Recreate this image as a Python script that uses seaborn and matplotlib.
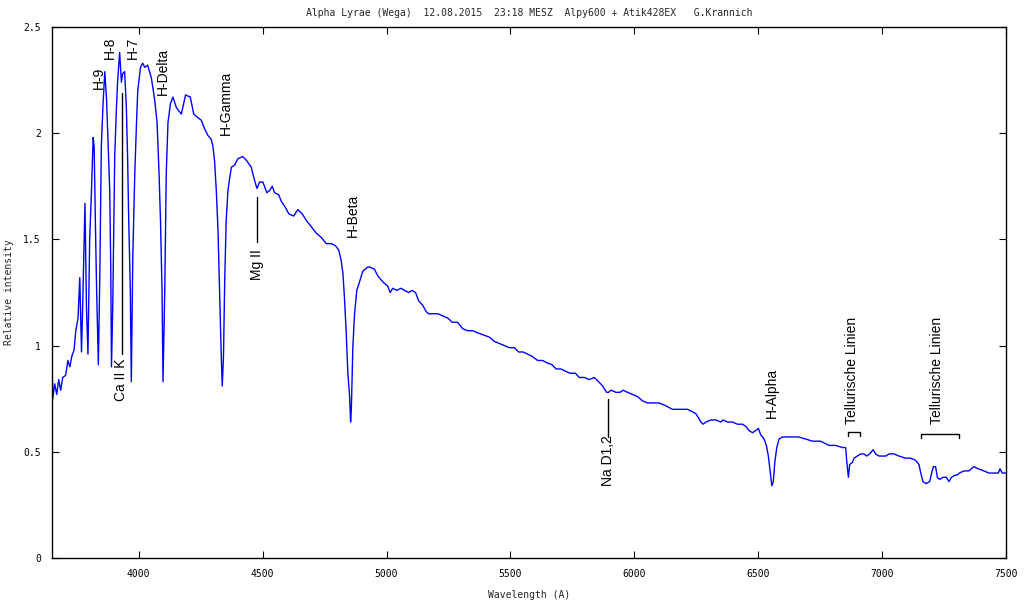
import numpy as np
import pandas as pd
import seaborn as sns
import matplotlib
matplotlib.use("Agg")
import matplotlib.pyplot as plt

# Wellenlaenge (A) und relative Intensitaet
wavelength = [
    3650, 3653, 3661, 3669, 3677, 3685, 3693, 3705, 3714, 3722, 3730, 3739, 3746, 3755, 3762,
    3769, 3774, 3783, 3789, 3795, 3802, 3809, 3816, 3820, 3825, 3830, 3837, 3843, 3849, 3856,
    3863, 3870, 3875, 3883, 3887, 3890, 3895, 3903, 3910, 3915, 3923, 3930, 3935, 3943, 3950,
    3955, 3959, 3966, 3970, 3976, 3984, 3991, 3996, 4007, 4016, 4024, 4036, 4051, 4064, 4074,
    4082, 4088, 4094, 4098, 4105, 4111, 4118, 4128, 4138, 4152, 4172, 4189, 4208, 4222, 4232,
    4253, 4266, 4279, 4293, 4299, 4306, 4313, 4320, 4326, 4333, 4337, 4342, 4347, 4353, 4360,
    4367, 4374, 4387, 4400, 4420, 4436, 4454, 4467, 4477, 4488, 4501, 4517, 4528, 4539, 4548,
    4565, 4575, 4592, 4606, 4625, 4642, 4660, 4676, 4696, 4716, 4736, 4757, 4777, 4794, 4807,
    4817, 4824, 4830, 4837, 4844, 4851, 4855, 4858, 4864, 4871, 4880, 4891, 4904, 4924, 4931,
    4951, 4964, 4985, 5005, 5015, 5025, 5041, 5059, 5072, 5090, 5103, 5117, 5130, 5146, 5160,
    5170, 5186, 5207, 5227, 5247, 5265, 5287, 5307, 5327, 5348, 5368, 5391, 5415, 5435, 5455,
    5476, 5496, 5516, 5533, 5552, 5569, 5587, 5610, 5630, 5646, 5668, 5684, 5704, 5721, 5740,
    5762, 5778, 5798, 5818, 5838, 5856, 5872, 5888, 5896, 5906, 5926, 5942, 5955, 5973, 5993,
    6013, 6033, 6053, 6073, 6100, 6121, 6138, 6154, 6174, 6194, 6215, 6232, 6248, 6259, 6269,
    6278, 6289, 6309, 6329, 6349, 6358, 6376, 6396, 6416, 6436, 6450, 6463, 6477, 6490, 6501,
    6510, 6524, 6533, 6541, 6549, 6555, 6561, 6567, 6575, 6584, 6598, 6618, 6638, 6662, 6692,
    6719, 6752, 6786, 6813, 6840, 6853, 6857, 6864, 6869, 6880, 6887, 6900, 6914, 6927, 6938,
    6950, 6964, 6974, 6988, 7015, 7028, 7048, 7068, 7095, 7115, 7135, 7149, 7156, 7165, 7178,
    7192, 7200, 7207, 7216, 7223, 7232, 7246, 7259, 7270, 7280, 7294, 7302, 7312, 7330, 7350,
    7370, 7388, 7411, 7431, 7447, 7469, 7476, 7485, 7492, 7500,
]
intensity = [
    0.93, 0.75, 0.82, 0.77, 0.84, 0.79, 0.85, 0.86, 0.93, 0.90, 0.95, 0.98, 1.07, 1.13, 1.32,
    0.97, 1.20, 1.67, 1.18, 0.96, 1.50, 1.72, 1.98, 1.94, 1.58, 1.26, 0.91, 1.34, 1.94, 2.14,
    2.29, 2.16, 2.00, 1.73, 1.37, 0.90, 1.18, 1.89, 2.12, 2.25, 2.38, 2.24, 2.28, 2.29, 2.12,
    1.89, 1.62, 1.26, 0.83, 1.42, 1.81, 2.05, 2.20, 2.31, 2.33, 2.31, 2.32, 2.26, 2.16, 2.05,
    1.81, 1.58, 1.26, 0.83, 1.26, 1.81, 2.05, 2.14, 2.17, 2.12, 2.09, 2.18, 2.17, 2.09, 2.08,
    2.06, 2.02, 1.99, 1.97, 1.94, 1.87, 1.73, 1.54, 1.26, 0.95, 0.81, 0.95, 1.31, 1.59, 1.73,
    1.79, 1.84, 1.85, 1.88, 1.89, 1.87, 1.84, 1.78, 1.74, 1.77, 1.77, 1.72, 1.73, 1.75, 1.72,
    1.71, 1.68, 1.65, 1.62, 1.61, 1.64, 1.62, 1.59, 1.56, 1.53, 1.51, 1.48, 1.48, 1.47, 1.45,
    1.40, 1.34, 1.23, 1.07, 0.87, 0.76, 0.64, 0.70, 0.99, 1.15, 1.26, 1.30, 1.35, 1.37, 1.37,
    1.36, 1.33, 1.30, 1.28, 1.25, 1.27, 1.26, 1.27, 1.26, 1.25, 1.26, 1.25, 1.21, 1.19, 1.16,
    1.15, 1.15, 1.15, 1.14, 1.13, 1.11, 1.11, 1.08, 1.07, 1.07, 1.06, 1.05, 1.04, 1.02, 1.01,
    1.00, 0.99, 0.99, 0.97, 0.97, 0.96, 0.95, 0.93, 0.93, 0.92, 0.91, 0.89, 0.89, 0.88, 0.87,
    0.87, 0.85, 0.85, 0.84, 0.85, 0.83, 0.81, 0.78, 0.78, 0.79, 0.78, 0.78, 0.79, 0.78, 0.77,
    0.76, 0.74, 0.73, 0.73, 0.73, 0.72, 0.71, 0.70, 0.70, 0.70, 0.70, 0.69, 0.68, 0.66, 0.64,
    0.63, 0.64, 0.65, 0.65, 0.64, 0.65, 0.64, 0.64, 0.63, 0.63, 0.62, 0.60, 0.59, 0.60, 0.61,
    0.58, 0.56, 0.53, 0.48, 0.40, 0.34, 0.36, 0.45, 0.52, 0.56, 0.57, 0.57, 0.57, 0.57, 0.56,
    0.55, 0.55, 0.53, 0.53, 0.52, 0.52, 0.46, 0.38, 0.44, 0.45, 0.47, 0.48, 0.49, 0.49, 0.48,
    0.49, 0.51, 0.49, 0.48, 0.48, 0.49, 0.49, 0.48, 0.47, 0.47, 0.46, 0.44, 0.40, 0.36, 0.35,
    0.36, 0.40, 0.43, 0.43, 0.38, 0.37, 0.38, 0.38, 0.36, 0.38, 0.39, 0.39, 0.40, 0.41, 0.41,
    0.43, 0.42, 0.41, 0.40, 0.40, 0.40, 0.42, 0.40, 0.40, 0.40,
]

# Linienbeschriftungen: Text, Wellenlaenge, Unterkante des Textes
line_names = ["H-9", "H-8", "H-7", "H-Delta", "H-Gamma", "Mg II", "H-Beta",
              "Ca II K", "Na D1,2", "H-Alpha", "Tellurische Linien", "Tellurische Linien"]
line_x = [3840, 3884, 3977, 4098, 4352, 4477, 4865, 3929, 5893, 6556, 6879, 7222]
line_y = [2.21, 2.35, 2.35, 2.18, 1.99, 1.31, 1.51, 0.74, 0.34, 0.66, 0.63, 0.63]

# Markierungsstriche (senkrecht): x, y von, y bis
tick_marks = [(3931, 0.96, 2.19), (4477, 1.49, 1.70), (5895, 0.57, 0.75)]
# Klammern fuer tellurische Linien: x von, x bis, y oben, y unten
brackets = [(6861, 6910, 0.593, 0.574), (7156, 7312, 0.582, 0.563)]

df = pd.DataFrame({"Wavelength": wavelength, "Intensity": intensity})

sns.set_style("ticks")
plt.rcParams['font.family'] = ['DejaVu Sans Mono']

fig = plt.figure(figsize=(10.24, 6.0), dpi=100)
ax = fig.add_axes([0.0508, 0.07, 0.9316, 0.885])

sns.lineplot(data=df, x="Wavelength", y="Intensity", ax=ax, color="#0000ff",
             linewidth=1.0, sort=False, estimator=None)

for name, xx, yy in zip(line_names, line_x, line_y):
    ax.text(xx, yy, name, rotation=90, ha="center", va="bottom", fontsize=10,
            family=["Liberation Sans", "DejaVu Sans"], color="black")
for xx, y0, y1 in tick_marks:
    ax.plot([xx, xx], [y0, y1], color="black", lw=1.0)
for x0, x1, yt, yb in brackets:
    ax.plot([x0, x0, x1, x1], [yb, yt, yt, yb], color="black", lw=1.0)

ax.set_xlim(3650, 7500)
ax.set_ylim(0, 2.5)
ax.set_xticks([4000, 4500, 5000, 5500, 6000, 6500, 7000, 7500])
ax.set_yticks([0, 0.5, 1, 1.5, 2, 2.5])
ax.set_yticklabels(["0", "0.5", "1", "1.5", "2", "2.5"])
ax.tick_params(direction="in", length=5, width=0.8, top=True, right=True,
               labelsize=7, pad=8, colors="black")
for s in ax.spines.values():
    s.set_visible(True)
    s.set_color("black")
    s.set_linewidth(1.0)

ax.set_title("Alpha Lyrae (Wega)  12.08.2015  23:18 MESZ  Alpy600 + Atik428EX   G.Krannich",
             fontsize=7, pad=8)
ax.set_xlabel("Wavelength (A)", fontsize=7, labelpad=8)
ax.set_ylabel("Relative intensity", fontsize=7, labelpad=7)

fig.savefig("out.png", dpi=100)
